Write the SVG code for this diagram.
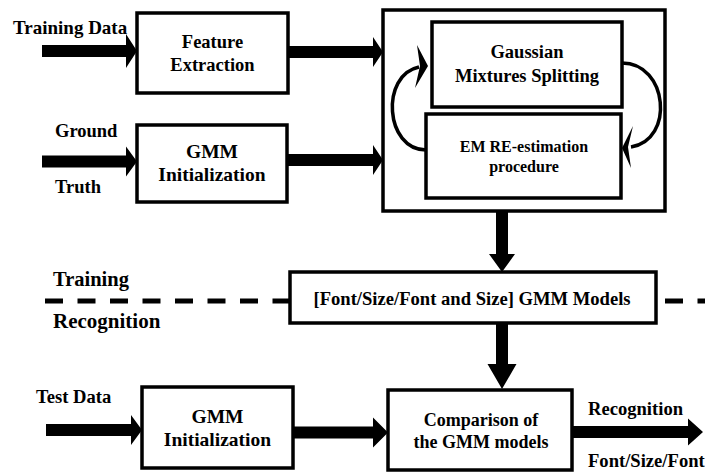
<svg xmlns="http://www.w3.org/2000/svg" width="705" height="473" viewBox="0 0 705 473">
<style>
.box{fill:#fff;stroke:#000;stroke-width:3.5}
.frame{fill:none;stroke:#000;stroke-width:3.5}
.t{font-family:'Liberation Serif','Times New Roman','DejaVu Serif',serif;font-weight:bold;fill:#000}
.c{text-anchor:middle}
.arr{fill:#000;stroke:none}
.curve{fill:none;stroke:#000;stroke-width:3.5}
.dash{stroke:#000;stroke-width:5;stroke-dasharray:18 14.5;fill:none}
</style>
<rect width="705" height="473" fill="#fff"/>
<g id="training-block">
<rect class="frame" x="383" y="10" width="282" height="201"/>
</g>
<g id="separator">
<line class="dash" x1="45" y1="301" x2="290" y2="301"/>
<line class="dash" x1="665" y1="301" x2="705" y2="301"/>
<text class="t" x="53" y="286" font-size="20.5">Training</text>
<text class="t" x="53" y="328" font-size="21">Recognition</text>
</g>
<g id="connectors">
<path class="arr" d="M42 45H126V34L137 51L126 68V57H42Z"/>
<path class="arr" d="M42 155.5H126V146.5L137 161.5L126 176.5V167.5H42Z"/>
<path class="arr" d="M288 46H373V37L383 52L373 67V58H288Z"/>
<path class="arr" d="M287 154H373V145L383 160L373 175V166H287Z"/>
<path class="arr" d="M46 424H131V415L142 430L131 445V436H46Z"/>
<path class="arr" d="M293 426.5H373V417.5L388 432.5L373 447.5V438.5H293Z"/>
<path class="arr" d="M572 426H688V418.5L703 432L688 445.5V438H572Z"/>
<path class="arr" d="M496 211V254H489L502 272L515 254H508V211Z"/>
<path class="arr" d="M496 323V364H487.5L502 389L516.5 364H508V323Z"/>
<path class="curve" d="M426 150C385 150 380 75 419 67"/>
<path class="arr" d="M417 45L428 66L415 88L420 66Z"/>
<path class="curve" d="M622 63C668 63 675 140 631 147"/>
<path class="arr" d="M633 126L622 148L631 168L628 147Z"/>
</g>
<g id="training-data-label">
<text class="t" x="13" y="34" font-size="19">Training Data</text>
</g>
<g id="ground-truth-label">
<text class="t" x="55" y="137" font-size="18.5">Ground</text>
<text class="t" x="55" y="193" font-size="18.5">Truth</text>
</g>
<g id="feature-extraction">
<rect class="box" x="137" y="13" width="151" height="80"/>
<text class="t c" x="212.5" y="48" font-size="18.5">Feature</text>
<text class="t c" x="212.5" y="71" font-size="18.5">Extraction</text>
</g>
<g id="gmm-init-train">
<rect class="box" x="137" y="125" width="150" height="77"/>
<text class="t c" x="212" y="158" font-size="19.5">GMM</text>
<text class="t c" x="212" y="181" font-size="19.5">Initialization</text>
</g>
<g id="gaussian-splitting">
<rect class="box" x="432" y="22" width="190" height="85"/>
<text class="t c" x="527" y="58" font-size="18.5">Gaussian</text>
<text class="t c" x="527" y="82" font-size="18.5">Mixtures Splitting</text>
</g>
<g id="em-reestimation">
<rect class="box" x="426" y="114" width="195" height="84"/>
<text class="t c" x="524" y="152" font-size="16">EM RE-estimation</text>
<text class="t c" x="524" y="172" font-size="16">procedure</text>
</g>
<g id="gmm-models">
<rect class="box" x="290" y="272" width="366" height="51"/>
<text class="t c" x="472" y="305" font-size="18.6">[Font/Size/Font and Size] GMM Models</text>
</g>
<g id="test-data-label">
<text class="t" x="36" y="403" font-size="18.6">Test Data</text>
</g>
<g id="gmm-init-test">
<rect class="box" x="142" y="387" width="151" height="81"/>
<text class="t c" x="217.5" y="423" font-size="19.5">GMM</text>
<text class="t c" x="217.5" y="446" font-size="19.5">Initialization</text>
</g>
<g id="comparison">
<rect class="box" x="388" y="390" width="184" height="80"/>
<text class="t c" x="481" y="426" font-size="18">Comparison of</text>
<text class="t c" x="481" y="448" font-size="18">the GMM models</text>
</g>
<g id="output-labels">
<text class="t" x="588" y="415" font-size="18.6">Recognition</text>
<text class="t" x="588" y="467" font-size="18.6">Font/Size/Font</text>
</g>
</svg>
